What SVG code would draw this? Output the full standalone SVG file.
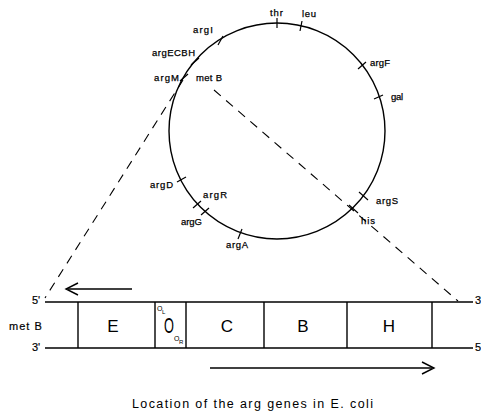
<svg xmlns="http://www.w3.org/2000/svg" width="481" height="413" viewBox="0 0 481 413">
<style>
text{font-family:"Liberation Sans",Arial,sans-serif;fill:#000}
.s{font-size:9.5px;stroke:#000;stroke-width:0.25}
.m{font-size:11px;stroke:#000;stroke-width:0.2}
.b{font-size:17px}
.ln{stroke:#000;stroke-width:1.4;fill:none}
.tk{stroke:#000;stroke-width:1.2}
.ds{stroke:#000;stroke-width:1.1;stroke-dasharray:9 7;fill:none}
</style>
<rect width="481" height="413" fill="#fff"/>
<g id="chromosome">
<circle cx="277" cy="131" r="108" class="ln" stroke-width="1.6"/>
<g class="tk">
<line x1="277" y1="18" x2="277" y2="28"/>
<line x1="302" y1="21" x2="300" y2="31"/>
<line x1="223" y1="36" x2="218" y2="45"/>
<line x1="199" y1="58" x2="191" y2="65"/>
<line x1="188" y1="74" x2="180" y2="81"/>
<line x1="366" y1="62" x2="358" y2="69"/>
<line x1="383" y1="95" x2="374" y2="99"/>
<line x1="177" y1="182" x2="186" y2="177"/>
<line x1="193" y1="208" x2="201" y2="201"/>
<line x1="201" y1="215" x2="209" y2="208"/>
<line x1="238" y1="239" x2="242" y2="229"/>
<line x1="359" y1="192" x2="368" y2="200"/>
<line x1="349" y1="205" x2="358" y2="213"/>
</g>
<text class="s" x="270" y="16" textLength="13">thr</text>
<text class="s" x="302" y="17" textLength="14">leu</text>
<text class="s" x="193" y="33" textLength="20">argI</text>
<text class="s" x="152" y="56" textLength="43">argECBH</text>
<text class="s" x="154" y="81" textLength="25">argM</text>
<text class="s" x="196" y="81" textLength="26">met B</text>
<text class="s" x="370" y="66" textLength="20">argF</text>
<text class="s" x="391" y="100" textLength="12">gal</text>
<text class="s" x="150" y="188" textLength="23">argD</text>
<text class="s" x="203" y="198" textLength="24">argR</text>
<text class="s" x="181" y="225" textLength="21">argG</text>
<text class="s" x="226" y="248" textLength="22">argA</text>
<text class="s" x="376" y="204" textLength="22">argS</text>
<text class="s" x="361" y="224" textLength="14">his</text>
</g>
<g id="connectors">
<line x1="183" y1="80" x2="45" y2="298" class="ds"/>
<line x1="214" y1="90" x2="458" y2="301" class="ds"/>
<line x1="132" y1="289" x2="68" y2="289" class="ln" stroke-width="2.2"/>
<polyline points="78,283 66,289 78,295" class="ln" stroke-width="2"/>
<line x1="210" y1="368" x2="432" y2="368" class="ln" stroke-width="2.2"/>
<polyline points="422,362 434,368 422,374" class="ln" stroke-width="2"/>
</g>
<g id="dna">
<line x1="45" y1="302" x2="473" y2="302" class="ln"/>
<line x1="45" y1="348" x2="473" y2="348" class="ln"/>
<g class="ln">
<line x1="78" y1="302" x2="78" y2="348"/>
<line x1="155" y1="302" x2="155" y2="348"/>
<line x1="186" y1="302" x2="186" y2="348"/>
<line x1="264" y1="302" x2="264" y2="348"/>
<line x1="347" y1="302" x2="347" y2="348"/>
<line x1="432" y1="302" x2="432" y2="348"/>
</g>
<text class="m" x="32" y="304">5'</text>
<text class="m" x="32" y="351">3'</text>
<text class="m" x="9" y="330" font-size="12" letter-spacing="1">met B</text>
<text class="m" x="475" y="304">3'</text>
<text class="m" x="475" y="351">5'</text>
</g>
<g id="genes">
<text class="b" x="113" y="332" text-anchor="middle">E</text>
<text class="b" text-anchor="middle" transform="translate(169,333) scale(0.75,1.3)">O</text>
<text x="157" y="311" font-size="7">O</text><text x="162" y="314" font-size="6">L</text>
<text x="174" y="341" font-size="7">O</text><text x="179" y="344" font-size="6">R</text>
<text class="b" x="227" y="332" text-anchor="middle">C</text>
<text class="b" x="303" y="332" text-anchor="middle">B</text>
<text class="b" x="389" y="332" text-anchor="middle">H</text>
</g>
<text x="132" y="408" font-size="12.5" textLength="241">Location of the arg genes in E. coli</text>
</svg>
